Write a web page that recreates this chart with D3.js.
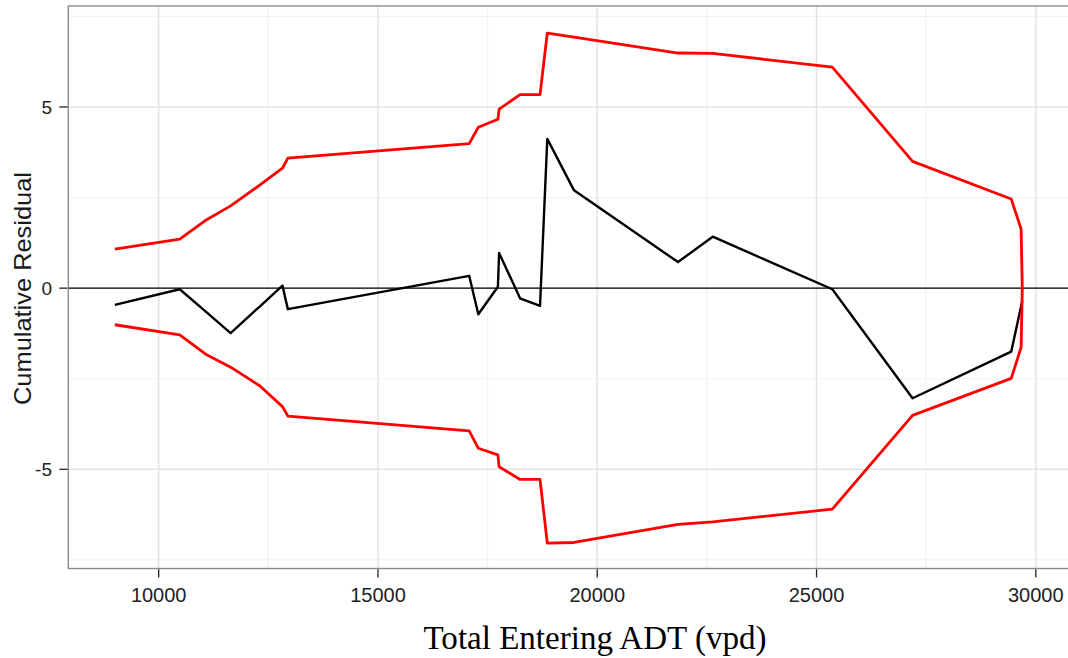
<!DOCTYPE html>
<html>
<head>
<meta charset="utf-8">
<script src="https://cdn.jsdelivr.net/npm/d3@7"></script>
<style>
  html, body { margin: 0; padding: 0; background: #fff; }
  svg { display: block; }
</style>
</head>
<body>
<svg id="chart" width="1068" height="658"></svg>
<script>
// ---- data ----
const adt      = [9000, 10480, 11094, 11640, 12310, 12822, 12945, 17080, 17288, 17735, 17762, 18240, 18695, 18861, 19470, 21841, 22633, 25360, 27190, 29440, 29665, 29692];
const residual = [-0.46, -0.03, -0.67, -1.24, -0.50, 0.07, -0.58, 0.34, -0.72, 0.04, 0.97, -0.28, -0.49, 4.12, 2.70, 0.72, 1.42, -0.03, -3.04, -1.75, -0.50, -0.35];
const upper    = [1.08, 1.35, 1.89, 2.27, 2.85, 3.31, 3.59, 3.99, 4.44, 4.66, 4.94, 5.34, 5.34, 7.04, 6.93, 6.49, 6.48, 6.10, 3.50, 2.46, 1.63, 0];
const lower    = [-1.01, -1.29, -1.84, -2.18, -2.70, -3.27, -3.53, -3.94, -4.42, -4.60, -4.93, -5.28, -5.28, -7.04, -7.02, -6.52, -6.45, -6.10, -3.51, -2.49, -1.63, 0];
const xTicks = [10000, 15000, 20000, 25000, 30000];
const xMinor = [12500, 17500, 22500, 27500];
const yTicks = [-5, 0, 5];
const yMinor = [-7.5, -2.5, 2.5, 7.5];
const xTitle = "Total Entering ADT (vpd)";
const yTitle = "Cumulative Residual";

// ---- layout ----
const svg = d3.select("#chart");
const panel = { left: 68.3, top: 6, right: 1072, bottom: 568.5 };
const x = d3.scaleLinear().domain([10000, 30000]).range([158.7, 1035.8]);
const y = d3.scaleLinear().domain([-5, 5]).range([469.3, 107]);

svg.append("defs").append("clipPath").attr("id", "pc")
  .append("rect").attr("x", panel.left).attr("y", panel.top)
  .attr("width", panel.right - panel.left).attr("height", panel.bottom - panel.top);

const g = svg.append("g").attr("clip-path", "url(#pc)");

// minor grid
g.selectAll(".xminor").data(xMinor).enter().append("line")
  .attr("x1", d => x(d)).attr("x2", d => x(d))
  .attr("y1", panel.top).attr("y2", panel.bottom)
  .attr("stroke", "#f2f2f2").attr("stroke-width", 1.2);
g.selectAll(".yminor").data(yMinor).enter().append("line")
  .attr("y1", d => y(d)).attr("y2", d => y(d))
  .attr("x1", panel.left).attr("x2", panel.right)
  .attr("stroke", "#f2f2f2").attr("stroke-width", 1.2);
// major grid
g.selectAll(".xmajor").data(xTicks).enter().append("line")
  .attr("x1", d => x(d)).attr("x2", d => x(d))
  .attr("y1", panel.top).attr("y2", panel.bottom)
  .attr("stroke", "#e3e3e3").attr("stroke-width", 1.5);
g.selectAll(".ymajor").data(yTicks).enter().append("line")
  .attr("y1", d => y(d)).attr("y2", d => y(d))
  .attr("x1", panel.left).attr("x2", panel.right)
  .attr("stroke", "#e3e3e3").attr("stroke-width", 1.5);

// zero reference line
g.append("line")
  .attr("x1", panel.left).attr("x2", panel.right)
  .attr("y1", y(0)).attr("y2", y(0))
  .attr("stroke", "#000").attr("stroke-width", 1.4);

const idx = d3.range(adt.length);
const lineOf = arr => d3.line().x(i => x(adt[i])).y(i => y(arr[i]));

g.append("path").attr("d", lineOf(residual)(idx))
  .attr("fill", "none").attr("stroke", "#000").attr("stroke-width", 2.4)
  .attr("stroke-linejoin", "round");
g.append("path").attr("d", lineOf(upper)(idx))
  .attr("fill", "none").attr("stroke", "#ff0000").attr("stroke-width", 2.8)
  .attr("stroke-linejoin", "round");
g.append("path").attr("d", lineOf(lower)(idx))
  .attr("fill", "none").attr("stroke", "#ff0000").attr("stroke-width", 2.8)
  .attr("stroke-linejoin", "round");

// panel border
svg.append("rect")
  .attr("x", panel.left).attr("y", panel.top)
  .attr("width", panel.right - panel.left).attr("height", panel.bottom - panel.top)
  .attr("fill", "none").attr("stroke", "#8a8a8a").attr("stroke-width", 1.4);

// ticks
svg.selectAll(".xtick").data(xTicks).enter().append("line")
  .attr("x1", d => x(d)).attr("x2", d => x(d))
  .attr("y1", panel.bottom + 0.7).attr("y2", panel.bottom + 9)
  .attr("stroke", "#222").attr("stroke-width", 1.3);
svg.selectAll(".ytick").data(yTicks).enter().append("line")
  .attr("y1", d => y(d)).attr("y2", d => y(d))
  .attr("x1", panel.left - 9).attr("x2", panel.left - 0.7)
  .attr("stroke", "#222").attr("stroke-width", 1.3);

// tick labels
svg.selectAll(".xlab").data(xTicks).enter().append("text")
  .attr("x", d => x(d)).attr("y", 602)
  .attr("text-anchor", "middle")
  .attr("font-family", "Liberation Sans, Arial, sans-serif")
  .attr("font-size", 20).attr("fill", "#222")
  .text(d => d);
svg.selectAll(".ylab").data(yTicks).enter().append("text")
  .attr("x", 52).attr("y", d => y(d) + 7)
  .attr("text-anchor", "end")
  .attr("font-family", "Liberation Sans, Arial, sans-serif")
  .attr("font-size", 19).attr("fill", "#222")
  .text(d => d);

// axis titles
svg.append("text")
  .attr("x", 595).attr("y", 649)
  .attr("text-anchor", "middle")
  .attr("font-family", "Liberation Serif, Times New Roman, serif")
  .attr("font-size", 33).attr("fill", "#000")
  .attr("textLength", 343).attr("lengthAdjust", "spacingAndGlyphs")
  .text(xTitle);
svg.append("text")
  .attr("transform", "translate(31,288.5) rotate(-90)")
  .attr("text-anchor", "middle")
  .attr("font-family", "Liberation Sans, Arial, sans-serif")
  .attr("font-size", 24).attr("fill", "#1a1a1a")
  .attr("textLength", 233).attr("lengthAdjust", "spacingAndGlyphs")
  .text(yTitle);
</script>
</body>
</html>
